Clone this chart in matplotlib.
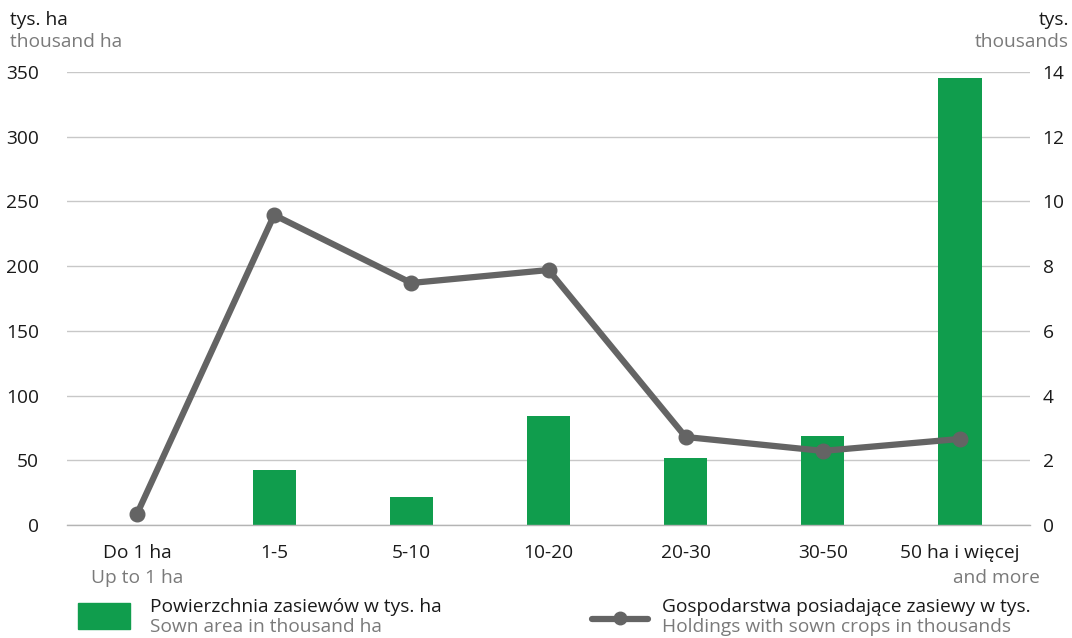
import matplotlib
matplotlib.use("Agg")
import matplotlib.pyplot as plt
from matplotlib.lines import Line2D
from matplotlib.patches import Rectangle

plt.rcParams['font.family'] = ['Open Sans', 'DejaVu Sans']

categories_pl = ["Do 1 ha", "1-5", "5-10", "10-20", "20-30", "30-50", "50 ha i więcej"]
categories_en = ["Up to 1 ha", "", "", "", "", "", "and more"]
sown_area = [0.3, 42.5, 21.5, 84, 51.5, 69, 345.5]          # thousand ha
holdings = [0.34, 9.58, 7.48, 7.88, 2.72, 2.29, 2.66]      # thousands
left_ticks = [0, 50, 100, 150, 200, 250, 300, 350]
right_ticks = [0, 2, 4, 6, 8, 10, 12, 14]

GREEN = "#109d4d"
LINEC = "#646464"
GREY_TXT = "#7a7a7a"
FS = 13.8
W, H = 1072, 638

fig = plt.figure(figsize=(W / 100, H / 100), dpi=100)
ax = fig.add_axes([67 / W, 1 - 525 / H, (1030 - 67) / W, (525 - 72) / H])
x = list(range(len(categories_pl)))
ax.bar(x, sown_area, width=0.315, color=GREEN, zorder=2)
ax.set_xlim(-0.51, 6.51)
ax.set_ylim(0, 350)
ax.set_yticks(left_ticks)
ax.grid(axis='y', color="#c8c8c8", linewidth=1.0, zorder=0)
for s in ["top", "right", "left"]:
    ax.spines[s].set_visible(False)
ax.spines["bottom"].set_color("#b4b4b4")
ax.spines["bottom"].set_linewidth(1.0)
ax.tick_params(axis='y', length=0, pad=20, labelsize=FS, labelcolor="#1a1a1a")
ax.tick_params(axis='x', length=0, labelbottom=False)

ax2 = ax.twinx()
ax2.plot(x, holdings, color=LINEC, linewidth=4.5, marker='o', markersize=10.5,
         solid_capstyle='round', zorder=3)
ax2.set_ylim(0, 14)
ax2.set_yticks(right_ticks)
for s in ["top", "right", "left", "bottom"]:
    ax2.spines[s].set_visible(False)
ax2.tick_params(axis='y', length=0, pad=9, labelsize=FS, labelcolor="#1a1a1a")

# x category labels
for i, (pl, en) in enumerate(zip(categories_pl, categories_en)):
    ax.text(i, -15, pl, ha='center', va='top', fontsize=FS, color="#1a1a1a",
            transform=ax.transData)
    if en:
        if i == len(categories_pl) - 1:
            ax.text(i + 0.585, -34, en, ha='right', va='top', fontsize=FS,
                    color=GREY_TXT, transform=ax.transData)
        else:
            ax.text(i, -34, en, ha='center', va='top', fontsize=FS,
                    color=GREY_TXT, transform=ax.transData)

def ft(px, py, s, **kw):
    fig.text(px / W, 1 - py / H, s, **kw)

# axis titles
ft(10, 20, "tys. ha", fontsize=FS, color="#1a1a1a", va='center')
ft(10, 42, "thousand ha", fontsize=FS, color=GREY_TXT, va='center')
ft(1069, 20, "tys.", fontsize=FS, color="#1a1a1a", va='center', ha='right')
ft(1069, 42, "thousands", fontsize=FS, color=GREY_TXT, va='center', ha='right')

# legend
fig.patches.append(Rectangle((78 / W, 1 - 629 / H), 52 / W, 26 / H,
                             transform=fig.transFigure, color=GREEN))
ft(150, 607, "Powierzchnia zasiewów w tys. ha", fontsize=FS, color="#1a1a1a", va='center')
ft(150, 627, "Sown area in thousand ha", fontsize=FS, color=GREY_TXT, va='center')
fig.lines.append(Line2D([592 / W, 648 / W], [1 - 619 / H, 1 - 619 / H],
                        transform=fig.transFigure, color=LINEC, linewidth=4.5,
                        solid_capstyle='round'))
fig.lines.append(Line2D([620 / W], [1 - 618 / H], transform=fig.transFigure,
                        color=LINEC, marker='o', markersize=9, linestyle='none'))
ft(662, 607, "Gospodarstwa posiadające zasiewy w tys.", fontsize=FS, color="#1a1a1a", va='center')
ft(662, 627, "Holdings with sown crops in thousands", fontsize=FS, color=GREY_TXT, va='center')

fig.savefig("out.png", dpi=100)
